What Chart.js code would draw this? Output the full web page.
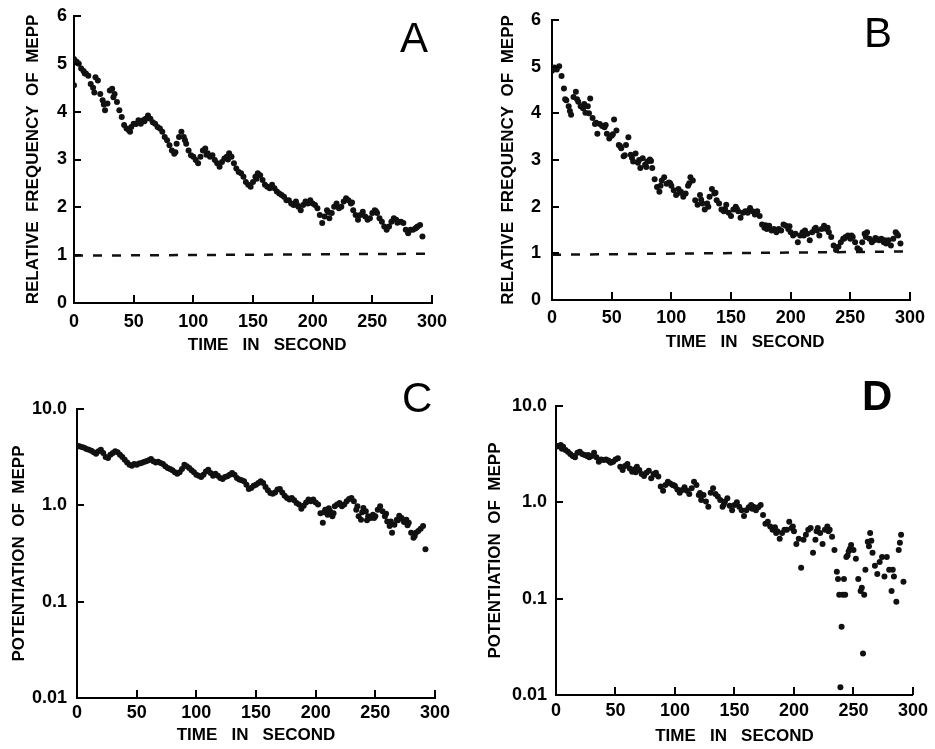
<!DOCTYPE html>
<html><head><meta charset="utf-8">
<script src="https://cdn.jsdelivr.net/npm/chart.js@4.4.1/dist/chart.umd.min.js"></script>
<style>
html,body{margin:0;padding:0;background:#fff;width:935px;height:749px;overflow:hidden;}
.panel{position:absolute;}
.panel canvas{display:block;}
.letter{position:absolute;font-family:"Liberation Sans",Arial,sans-serif;font-size:42px;line-height:42px;color:#000;}
</style></head><body>
<div class="panel" style="left:0;top:0;"><canvas id="cA" width="467" height="370"></canvas></div>
<div class="panel" style="left:467px;top:0;"><canvas id="cB" width="468" height="370"></canvas></div>
<div class="panel" style="left:0;top:370px;"><canvas id="cC" width="467" height="379"></canvas></div>
<div class="panel" style="left:467px;top:370px;"><canvas id="cD" width="468" height="379"></canvas></div>
<div class="letter" style="left:400px;top:17px;">A</div>
<div class="letter" style="left:864px;top:12px;">B</div>
<div class="letter" style="left:402px;top:377px;">C</div>
<div class="letter" style="left:862px;top:375px;font-weight:bold;">D</div>
<script>
// ---- data (time in seconds) ----
const timeSec = [0,2,4,6,8,10,12,14,16,18,20,22,24,26,28,30,32,34,36,38,40,42,44,46,48,50,52,54,56,58,60,62,64,66,68,70,72,74,76,78,80,82,84,86,88,90,92,94,96,98,100,102,104,106,108,110,112,114,116,118,120,122,124,126,128,130,132,134,136,138,140,142,144,146,148,150,152,154,156,158,160,162,164,166,168,170,172,174,176,178,180,182,184,186,188,190,192,194,196,198,200,202,204,206,208,210,212,214,216,218,220,222,224,226,228,230,232,234,236,238,240,242,244,246,248,250,252,254,256,258,260,262,264,266,268,270,272,274,276,278,280,282,284,286,288,290,292];

const freqA = [5.10,5.05,5.00,4.90,4.85,4.80,4.75,4.58,4.50,4.72,
4.65,4.37,4.24,4.03,4.17,4.44,4.48,4.37,4.20,4.03,
3.89,3.72,3.65,3.61,3.68,3.75,3.74,3.82,3.75,3.82,
3.85,3.92,3.85,3.78,3.75,3.68,3.65,3.58,3.47,3.40,
3.30,3.19,3.12,3.33,3.47,3.58,3.47,3.33,3.19,3.09,
3.06,2.99,2.92,3.06,3.19,3.23,3.13,3.06,3.09,2.99,
2.92,2.85,2.95,3.02,3.06,3.13,3.06,2.92,2.81,2.74,
2.71,2.64,2.53,2.47,2.43,2.53,2.64,2.71,2.67,2.57,
2.47,2.43,2.40,2.47,2.40,2.33,2.29,2.26,2.22,2.15,
2.15,2.08,2.05,2.12,2.01,1.94,2.05,2.12,2.08,2.15,
2.08,2.05,1.98,1.84,1.67,1.81,1.94,1.77,1.88,2.01,
2.08,1.98,2.01,2.12,2.19,2.15,2.08,1.94,1.84,1.74,
1.84,1.91,1.81,1.74,1.77,1.88,1.94,1.88,1.77,1.70,
1.60,1.53,1.60,1.70,1.77,1.74,1.70,1.70,1.67,1.53,
1.46,1.53,1.53,1.56,1.60,1.63,1.39];
const extraTimeA = [0, 3, 9, 17, 25, 33, 47, 59, 85, 93, 111, 129, 153, 187, 213, 233, 253, 271, 287];
const extraFreqA = [4.55, 5.02, 4.80, 4.40, 4.15, 4.30, 3.58, 3.80, 3.15, 3.40, 3.10, 3.00, 2.60, 2.05, 1.90, 2.10, 1.92, 1.68, 1.58];

const freqB = [4.91,4.98,4.94,5.01,4.80,4.53,4.28,4.15,3.97,4.35,
4.46,4.25,4.15,4.11,4.01,4.15,4.32,3.90,3.77,3.56,
3.77,3.73,3.70,3.56,3.46,3.52,3.87,3.63,3.32,3.25,
3.08,3.32,3.49,3.11,2.97,3.14,2.94,2.83,3.04,2.90,
2.97,3.01,2.83,2.59,2.42,2.32,2.56,2.63,2.49,2.52,
2.45,2.35,2.25,2.38,2.32,2.21,2.28,2.45,2.63,2.56,
2.14,2.04,2.25,2.07,1.94,2.07,2.21,2.38,2.28,2.14,
2.07,1.94,1.90,2.04,1.87,1.80,1.94,2.00,1.90,1.76,
1.87,1.90,1.87,1.97,1.90,1.83,1.90,1.80,1.62,1.55,
1.52,1.59,1.49,1.52,1.45,1.52,1.49,1.62,1.59,1.52,
1.45,1.38,1.42,1.24,1.38,1.45,1.49,1.42,1.28,1.45,
1.52,1.49,1.38,1.52,1.59,1.52,1.45,1.35,1.17,1.07,
1.14,1.24,1.31,1.35,1.38,1.31,1.35,1.24,1.11,1.07,
1.24,1.42,1.45,1.31,1.24,1.28,1.31,1.28,1.31,1.24,
1.21,1.28,1.17,1.31,1.45,1.38,1.21];
const extraTimeB = [11,15,21,27,31,37,45,51,57,61,67,73,79,83,91,99,107,115,125,131,137,145,155,165,179,189,199,211,221,231,245,251,263,271,279,289];
const extraFreqB = [4.30,4.05,4.30,4.20,4.00,3.80,3.75,3.55,3.30,3.10,3.05,3.00,2.85,2.98,2.45,2.50,2.30,2.50,2.15,2.00,2.30,1.95,1.95,1.92,1.60,1.50,1.58,1.38,1.55,1.55,1.32,1.38,1.35,1.33,1.28,1.42];

const potC = [4.16,4.10,4.04,3.95,3.85,3.77,3.69,3.55,3.44,3.64,
3.78,3.49,3.18,3.10,3.36,3.49,3.64,3.55,3.36,3.18,
2.98,2.79,2.64,2.58,2.69,2.64,2.71,2.75,2.82,2.87,
2.93,3.03,2.87,2.79,2.84,2.75,2.69,2.54,2.44,2.38,
2.31,2.20,2.13,2.20,2.38,2.64,2.54,2.44,2.31,2.20,
2.08,2.03,1.97,2.08,2.25,2.34,2.17,2.03,2.13,2.03,
1.92,1.88,1.97,2.00,2.08,2.17,2.08,1.92,1.85,1.82,
1.78,1.64,1.48,1.51,1.60,1.64,1.71,1.78,1.71,1.55,
1.43,1.34,1.32,1.36,1.46,1.48,1.36,1.26,1.19,1.15,
1.19,1.13,1.06,1.02,0.92,0.99,1.07,1.15,1.10,1.15,
1.07,1.02,0.83,0.66,0.90,0.80,0.87,0.77,0.98,1.02,
1.06,0.98,1.02,1.10,1.16,1.19,1.10,0.90,0.77,0.71,
0.94,0.87,0.77,0.74,0.80,0.77,0.90,0.98,0.87,0.77,
0.68,0.61,0.52,0.63,0.71,0.78,0.74,0.67,0.71,0.66,
0.52,0.46,0.52,0.54,0.57,0.61,0.35];
const extraTimeC = [207,211,215,235,239,243,249,259,263,269,277,283];
const extraPotC = [0.85,0.93,0.83,0.98,0.85,0.70,0.74,0.82,0.68,0.70,0.62,0.48];

const potD = [3.85,3.85,3.94,3.78,3.49,3.36,3.18,3.03,2.93,3.28,
3.36,3.18,3.10,3.03,2.93,3.03,3.28,2.93,2.64,2.79,
2.75,2.79,2.71,2.58,2.64,2.79,2.86,2.34,2.17,2.38,
2.50,2.25,2.08,2.20,2.34,2.17,1.97,1.88,2.03,2.13,
1.78,1.97,2.03,1.85,1.46,1.32,1.51,1.64,1.57,1.51,
1.48,1.36,1.26,1.34,1.43,1.32,1.22,1.40,1.64,1.51,
1.19,1.06,1.19,1.02,0.90,1.26,1.40,1.22,1.15,1.06,
0.90,1.02,1.10,0.92,0.83,0.94,1.00,0.90,0.83,0.72,
0.83,0.89,0.94,0.90,0.83,0.89,0.94,0.74,0.60,0.63,
0.56,0.52,0.55,0.50,0.42,0.48,0.52,0.52,0.63,0.54,
0.50,0.37,0.42,0.21,0.41,0.46,0.52,0.54,0.30,0.41,
0.54,0.48,0.37,0.52,0.56,0.52,0.44,0.32,0.19,0.11,
0.051,0.16,0.27,0.31,0.36,0.32,0.26,0.16,0.12,0.027,
0.20,0.39,0.48,0.30,0.22,0.18,0.24,0.27,0.17,0.27,
0.20,0.12,0.17,0.093,0.32,0.46,0.15];
const extraTimeD = [239,241,243,237,257,259,263,265,289,283,245,247,1,5,15,27,45,67,83,99,121,141,165,185,199,219,229];
const extraPotD = [0.012,0.11,0.11,0.16,0.13,0.11,0.35,0.40,0.38,0.20,0.28,0.33,3.80,3.60,3.00,3.10,2.65,2.05,1.95,1.50,1.25,0.95,0.86,0.48,0.56,0.50,0.50];

const refLineX = [0, 300];
const refLineA = [0.99, 1.03];
const refLineB = [0.97, 1.04];

const xTickValues = [0, 50, 100, 150, 200, 250, 300];
const linTickValues = [0, 1, 2, 3, 4, 5, 6];
const logTickValues = [0.01, 0.1, 1, 10];
const logTickLabels = ['0.01', '0.1', '1.0', '10.0'];

// ---- helpers ----
const FONT = '"Liberation Sans", Arial, Helvetica, sans-serif';
const pts = (xs, ys) => xs.map((x, i) => ({x: x, y: ys[i]}));

const inwardTicks = {
  id: 'inwardTicks',
  afterDraw(chart) {
    const {ctx, scales: {x, y}} = chart;
    ctx.save();
    ctx.strokeStyle = '#000';
    ctx.lineWidth = 2;
    ctx.beginPath();
    x.ticks.forEach((t, i) => {
      if (i === 0) return;
      const px = Math.round(x.getPixelForValue(t.value));
      ctx.moveTo(px, x.top);
      ctx.lineTo(px, x.top - 8);
    });
    y.ticks.forEach((t, i) => {
      if (i === 0) return;
      const py = Math.round(y.getPixelForValue(t.value));
      ctx.moveTo(y.right, py);
      ctx.lineTo(y.right + 7, py);
    });
    ctx.stroke();
    ctx.restore();
  }
};

function makePanel(id, o) {
  const datasets = [
    {data: pts(o.t, o.v), backgroundColor: '#111', borderColor: '#111', pointRadius: 3, pointBorderWidth: 0, showLine: false},
    {data: pts(o.et, o.ev), backgroundColor: '#111', borderColor: '#111', pointRadius: 3, pointBorderWidth: 0, showLine: false}
  ];
  if (o.ref) {
    datasets.push({data: pts(refLineX, o.ref), showLine: true, borderColor: '#111', borderWidth: 2.5,
      borderDash: [9, 10], pointRadius: 0, fill: false});
  }
  const yScale = o.log ? {
    type: 'logarithmic', min: 0.01, max: 10,
    afterBuildTicks: s => { s.ticks = logTickValues.map(v => ({value: v})); },
    ticks: {callback: (v, i) => logTickLabels[i]}
  } : {
    type: 'linear', min: 0, max: 6,
    afterBuildTicks: s => { s.ticks = linTickValues.map(v => ({value: v})); },
    ticks: {callback: v => String(v)}
  };
  Object.assign(yScale, {
    position: 'left',
    grid: {display: false, drawTicks: false},
    border: {display: true, color: '#000', width: 2},
    afterFit: s => { s.width = o.yW; },
    title: {display: true, text: o.yTitle, color: '#000',
      font: {family: FONT, size: 17, weight: 'bold', lineHeight: 1.2},
      padding: {top: o.yTitlePad, bottom: 0}}
  });
  Object.assign(yScale.ticks, {color: '#000', padding: o.yTickPad,
    font: {family: FONT, size: 18, weight: 'bold', lineHeight: 1.0}});

  new Chart(document.getElementById(id), {
    type: 'scatter',
    data: {datasets},
    options: {
      responsive: false, animation: false, devicePixelRatio: 1,
      events: [],
      layout: {padding: {left: 0, bottom: 0, top: o.padTop, right: o.padRight}},
      plugins: {legend: {display: false}, tooltip: {enabled: false}},
      scales: {
        x: {
          type: 'linear', min: 0, max: 300, position: 'bottom',
          afterBuildTicks: s => { s.ticks = xTickValues.map(v => ({value: v})); },
          grid: {display: false, drawTicks: false},
          border: {display: true, color: '#000', width: 2},
          afterFit: s => { s.height = o.xH; },
          ticks: {color: '#000', padding: o.xTickPad, maxRotation: 0,
            font: {family: FONT, size: 18, weight: 'bold', lineHeight: 1.0}},
          title: {display: true, text: o.xTitle, color: '#000',
            font: {family: FONT, size: 17, weight: 'bold', lineHeight: 1.2},
            padding: {top: 0, bottom: o.xTitlePad}}
        },
        y: yScale
      }
    },
    plugins: [inwardTicks]
  });
}

makePanel('cA', {t: timeSec, v: freqA, et: extraTimeA, ev: extraFreqA, ref: refLineA, log: false,
  yW: 74, xH: 67, padTop: 15, padRight: 35, yTickPad: 7, xTickPad: 10, yTitlePad: 23, xTitlePad: 14,
  yTitle: 'RELATIVE  FREQUENCY  OF  MEPP', xTitle: '      TIME   IN   SECOND'});
makePanel('cB', {t: timeSec, v: freqB, et: extraTimeB, ev: extraFreqB, ref: refLineB, log: false,
  yW: 85, xH: 70, padTop: 11, padRight: 25, yTickPad: 11, xTickPad: 9, yTitlePad: 31, xTitlePad: 17,
  yTitle: 'RELATIVE  FREQUENCY  OF  MEPP', xTitle: '      TIME   IN   SECOND'});
makePanel('cC', {t: timeSec, v: potC, et: extraTimeC, ev: extraPotC, ref: null, log: true,
  yW: 77, xH: 51, padTop: 39, padRight: 32, yTickPad: 10, xTickPad: 6, yTitlePad: 9, xTitlePad: 3,
  yTitle: 'POTENTIATION  OF  MEPP', xTitle: 'TIME   IN   SECOND'});
makePanel('cD', {t: timeSec, v: potD, et: extraTimeD, ev: extraPotD, ref: null, log: true,
  yW: 89, xH: 54, padTop: 36, padRight: 20, yTickPad: 9, xTickPad: 7, yTitlePad: 18, xTitlePad: 2,
  yTitle: 'POTENTIATION  OF  MEPP', xTitle: 'TIME   IN   SECOND'});
</script>
</body></html>
